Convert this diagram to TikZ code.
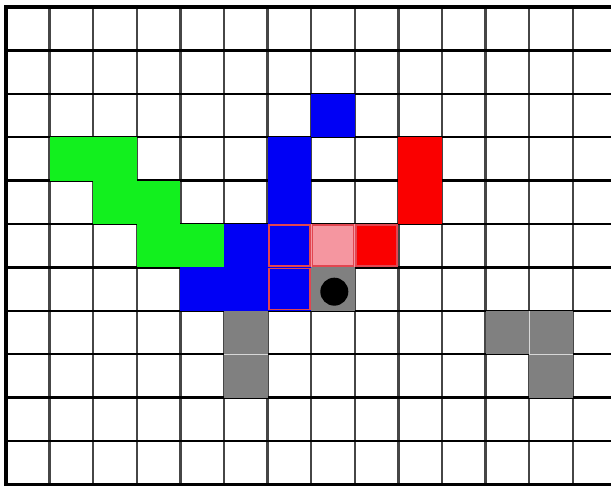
\documentclass[tikz,border=0pt]{standalone}
\usepackage{xcolor}

\definecolor{gridgray}{RGB}{70,70,70}
\definecolor{cellblue}{RGB}{0,0,245}
\definecolor{cellgreen}{RGB}{18,240,30}
\definecolor{cellred}{RGB}{250,0,0}
\definecolor{cellpink}{RGB}{245,150,160}
\definecolor{cellgray}{RGB}{128,128,128}
\definecolor{seamgray}{RGB}{215,215,215}
\definecolor{edgered}{RGB}{225,70,80}

\tikzset{every picture/.style={line width=0.75pt}}
\tikzset{
  gridline/.style={line width=1.9pt},
  cellbox/.style={line width=1.2pt, color=edgered}
}

\begin{document}
\begin{tikzpicture}[x=32.7pt,y=32.55pt,yscale=-1,xscale=1]
\useasboundingbox (-0.138,-0.161) rectangle (13.876,11.037);
\fill [white] (-0.138,-0.161) rectangle (13.876,11.037);

%Grid lines
\foreach \i in {1,...,13} \draw [gridline, color=gridgray] (\i,0) -- (\i,11);
\foreach \j in {1,...,11} \draw [gridline] (0,\j) -- (13.876,\j);
%Outer border
\draw [line width=2.6pt] (0,11.037) -- (0,0) -- (13.876,0);

%Green piece
\foreach \c/\r in {1/3,2/3,2/4,3/4,3/5,4/5} \fill [cellgreen] (\c,\r) rectangle ++(1,1);
%Blue piece
\foreach \c/\r in {7/2,6/3,6/4,5/5,6/5,4/6,5/6,6/6} \fill [cellblue] (\c,\r) rectangle ++(1,1);
%Red piece
\foreach \c/\r in {9/3,9/4,8/5} \fill [cellred] (\c,\r) rectangle ++(1,1);
%Pink cell
\fill [cellpink] (7,5) rectangle ++(1,1);
%Gray cells
\foreach \c/\r in {7/6,5/7,5/8,11/7,12/7,12/8} \fill [cellgray] (\c,\r) rectangle ++(1,1);
\draw [seamgray, line width=1pt] (5,8) -- (6,8);
\draw [seamgray, line width=1pt] (12,7) -- (12,8) -- (13,8);

%Marked cells
\foreach \c/\r in {6/5,7/5,8/5,6/6} \draw [cellbox] (\c+0.03,\r+0.03) rectangle ++(0.94,0.94);

%Ball
\fill [black] (7.53,6.56) circle [radius=10.5pt];

\end{tikzpicture}
\end{document}
